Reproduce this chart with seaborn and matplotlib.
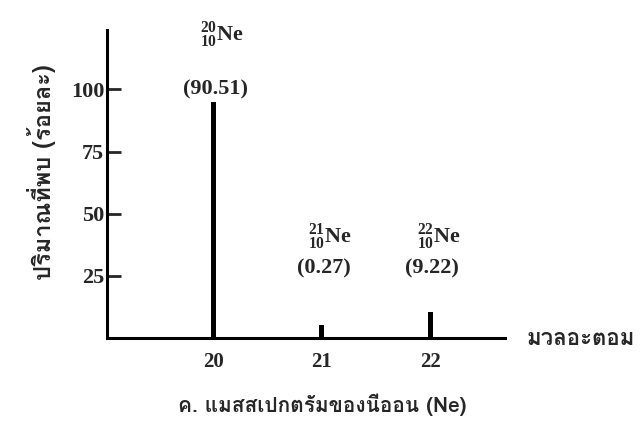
import pandas as pd
import matplotlib
matplotlib.use('Agg')
import matplotlib.pyplot as plt
import seaborn as sns
from matplotlib import font_manager
from matplotlib.ft2font import FT2Font

# ข้อมูลแมสสเปกตรัมของนีออน
masses = [20, 21, 22]
drawn_heights = [94.8, 5.2, 10.5]      # ความสูงเส้นตามที่วาดในภาพ
abundance_labels = ['(90.51)', '(0.27)', '(9.22)']
isotopes = [r'${}^{20}_{10}\mathrm{Ne}$', r'${}^{21}_{10}\mathrm{Ne}$', r'${}^{22}_{10}\mathrm{Ne}$']
y_ticks = [25, 50, 75, 100]

# หาฟอนต์ที่มีตัวอักษรไทย
def find_thai_font():
    names = []
    for f in font_manager.fontManager.ttflist:
        try:
            if 0x0E1B in FT2Font(f.fname).get_charmap():
                names.append(f.name)
        except Exception:
            pass
    return names

thai_fonts = find_thai_font()
thai_family = [thai_fonts[0], 'DejaVu Sans'] if thai_fonts else ['DejaVu Sans']

sns.set_style('white')
plt.rcParams['font.family'] = ['Liberation Serif', 'DejaVu Serif']
plt.rcParams['font.weight'] = 'bold'
plt.rcParams['mathtext.fontset'] = 'custom'
plt.rcParams['mathtext.rm'] = 'Liberation Serif:bold'

fig = plt.figure(figsize=(6.44, 4.26), dpi=100)
ax = fig.add_axes([0.166, 0.207, 0.618, 0.723])

df = pd.DataFrame({'mass': masses, 'height': drawn_heights})
sns.barplot(data=df, x='mass', y='height', native_scale=True, width=0.045,
            color='black', edgecolor='black', linewidth=0, ax=ax)

ax.set_xlim(19.02, 22.69)
ax.set_ylim(0, 124)

for s in ['top', 'right']:
    ax.spines[s].set_visible(False)
for s in ['left', 'bottom']:
    ax.spines[s].set_linewidth(2.2)
    ax.spines[s].set_color('black')

ax.set_yticks(y_ticks)
ax.set_yticklabels([str(t) for t in y_ticks], fontsize=16, fontweight='bold')
ax.tick_params(axis='y', direction='in', length=10, width=2, pad=2, left=True)
ax.set_xticks(masses)
ax.set_xticklabels([str(m) for m in masses], fontsize=15, fontweight='bold')
ax.tick_params(axis='x', length=0, pad=10)
ax.set_xlabel('')
ax.set_ylabel('')

# ป้ายไอโซโทปและร้อยละ
iso_y = [122, 40.7, 40.7]
lab_y = [100, 28, 28]
for m, iso, iy, lab, ly in zip(masses, isotopes, iso_y, abundance_labels, lab_y):
    ax.text(m + 0.08, iy, iso, ha='center', va='center', fontsize=16, clip_on=False)
    ax.text(m + 0.02, ly, lab, ha='center', va='center', fontsize=16, fontweight='bold', clip_on=False)

fig.text(0.902, 1 - 339 / 426, 'มวลอะตอม', ha='center', va='center',
         fontsize=16, fontweight='bold', family=thai_family)
fig.text(0.065, 1 - 172 / 426, 'ปริมาณที่พบ (ร้อยละ)', ha='center', va='center',
         rotation=90, fontsize=17, fontweight='bold', family=thai_family)
fig.text(0.5, 1 - 405 / 426, 'ค. แมสสเปกตรัมของนีออน (Ne)', ha='center', va='center',
         fontsize=15, fontweight='bold', family=thai_family)

fig.savefig('out.png', dpi=100)
